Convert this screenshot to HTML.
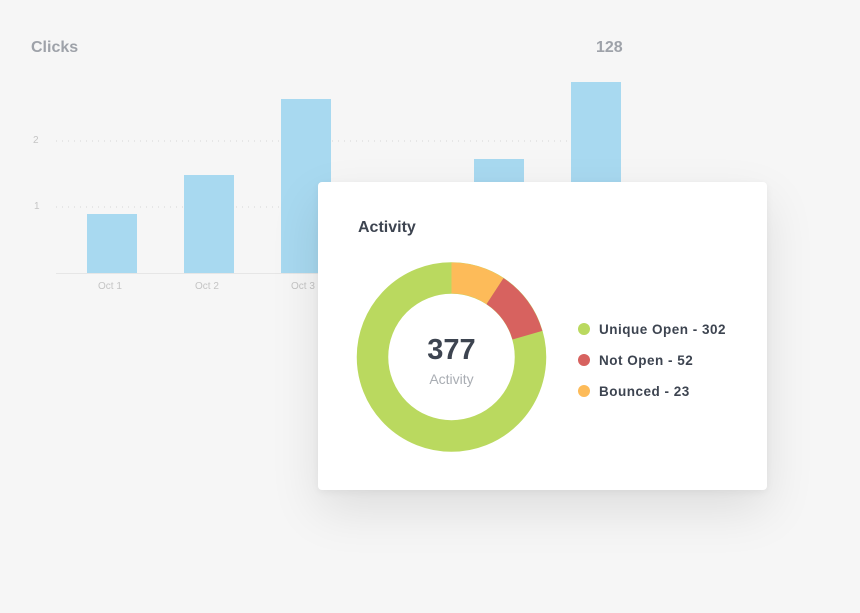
<!DOCTYPE html>
<html><head><style>
body{margin:0;width:860px;height:613px;background:#f6f6f6;font-family:"Liberation Sans",sans-serif;position:relative;overflow:hidden}
.t{position:absolute;white-space:nowrap}
.bar{position:absolute;background:#a8d9f0;width:50px}
.card{position:absolute;left:318px;top:182px;width:449px;height:308px;background:#fff;border-radius:4px;box-shadow:0 20px 50px rgba(0,0,0,0.10),0 2px 8px rgba(0,0,0,0.05)}
.dot{position:absolute;width:12px;height:12px;border-radius:50%}
.lg{position:absolute;font-size:13.5px;color:#3d4450;font-weight:bold;letter-spacing:0.5px}
</style></head><body>
<div class="t" style="left:31px;top:39px;font-size:16px;font-weight:bold;color:#9ea2a9">Clicks</div>
<div class="t" style="left:596px;top:39px;font-size:16px;font-weight:bold;color:#9ea2a9">128</div>
<svg style="position:absolute;left:0;top:0" width="860" height="613">
<line x1="56" y1="141" x2="620" y2="141" stroke="#d6d6d6" stroke-dasharray="1 5"/>
<line x1="56" y1="207" x2="620" y2="207" stroke="#d6d6d6" stroke-dasharray="1 5"/>
<line x1="56" y1="273.5" x2="620" y2="273.5" stroke="#e6e6e6"/>
</svg>
<div class="t" style="left:33px;top:135px;font-size:10px;color:#c4c4c4">2</div>
<div class="t" style="left:34px;top:201px;font-size:10px;color:#c4c4c4">1</div>
<div class="bar" style="left:87px;top:214px;height:59px"></div>
<div class="bar" style="left:184px;top:175px;height:98px"></div>
<div class="bar" style="left:281px;top:99px;height:174px"></div>
<div class="bar" style="left:474px;top:159px;height:114px"></div>
<div class="bar" style="left:571px;top:82px;height:191px"></div>
<div class="t" style="left:98px;top:281px;font-size:10px;color:#c4c4c4">Oct 1</div>
<div class="t" style="left:195px;top:281px;font-size:10px;color:#c4c4c4">Oct 2</div>
<div class="t" style="left:291px;top:281px;font-size:10px;color:#c4c4c4">Oct 3</div>
<div class="card"></div>
<div class="t" style="left:358px;top:219px;font-size:16px;font-weight:bold;color:#3d4450">Activity</div>
<svg style="position:absolute;left:0;top:0" width="860" height="613">
<circle cx="451.5" cy="357" r="79" fill="none" stroke="#bad95f" stroke-width="31.5"/>
<path d="M451.5 262.5 A94.5 94.5 0 0 1 503.5 278.1 L486.5 304.1 A63.5 63.5 0 0 0 451.5 293.5Z" fill="#fdbb59"/>
<path d="M503.5 278.1 A94.5 94.5 0 0 1 542.3 330.9 L512.5 339.5 A63.5 63.5 0 0 0 486.5 304.1Z" fill="#d7625f"/>
</svg>
<div class="t" style="left:0;width:903px;text-align:center;top:334px;font-size:29px;font-weight:bold;color:#3d4450">377</div>
<div class="t" style="left:0;width:903px;text-align:center;top:371px;font-size:14px;color:#a9adb3">Activity</div>
<div class="dot" style="left:578px;top:323px;background:#bad95f"></div>
<div class="dot" style="left:578px;top:354px;background:#d7625f"></div>
<div class="dot" style="left:578px;top:385px;background:#fdbb59"></div>
<div class="lg" style="left:599px;top:322px">Unique Open - 302</div>
<div class="lg" style="left:599px;top:353px">Not Open - 52</div>
<div class="lg" style="left:599px;top:384px">Bounced - 23</div>
</body></html>
